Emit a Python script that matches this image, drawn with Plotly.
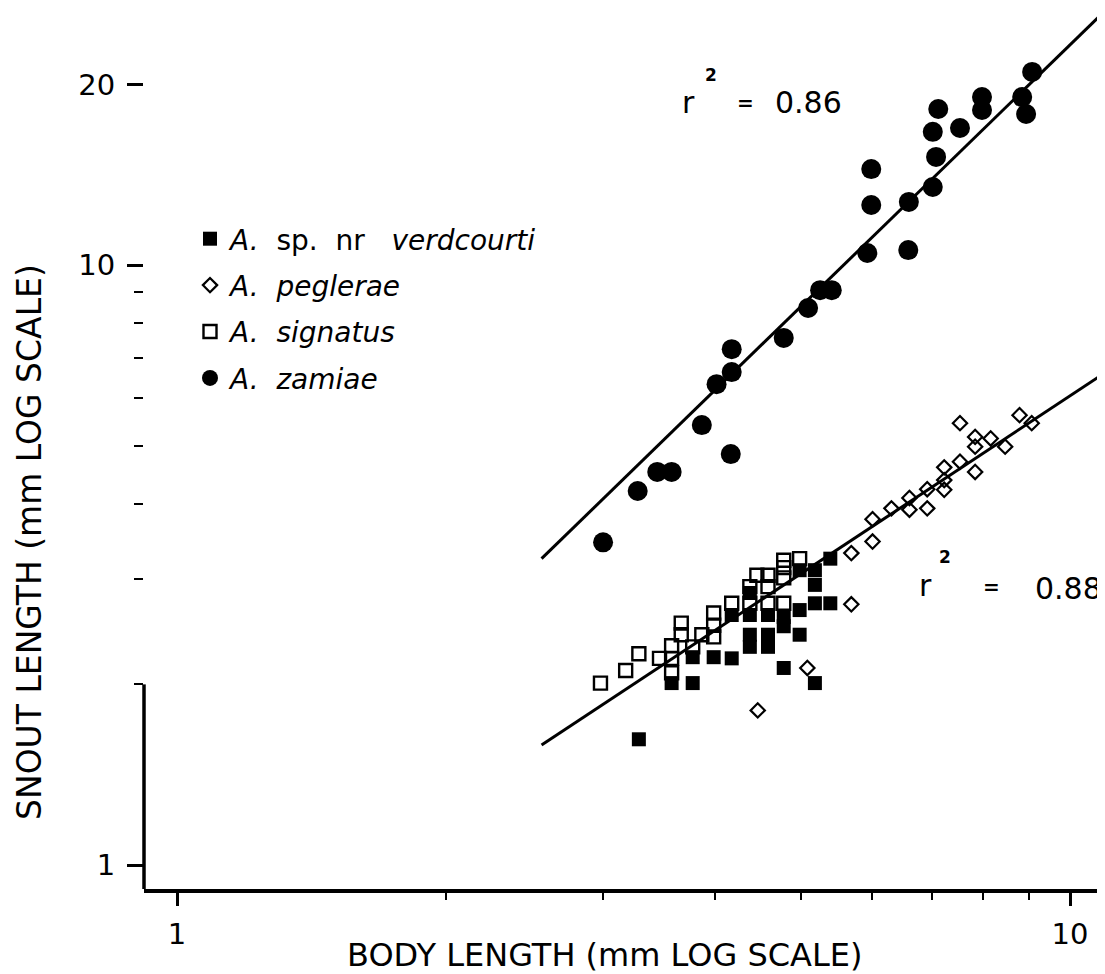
import plotly.graph_objects as go

# ---------------- data ----------------
zamiae_x = [3.00, 3.28, 3.45, 3.58, 3.87, 4.17, 4.02, 4.18, 4.18, 4.78, 5.09, 5.25, 5.41,
            5.93, 5.99, 5.99, 6.59, 6.60, 7.02, 7.08, 7.02, 7.12, 7.53, 7.97, 7.97, 8.84, 8.93, 9.07]
zamiae_y = [3.45, 4.20, 4.52, 4.52, 5.41, 4.84, 6.33, 6.63, 7.24, 7.56, 8.48, 9.08, 9.08,
            10.47, 12.59, 14.45, 10.59, 12.74, 13.49, 15.14, 16.67, 18.20, 16.92, 19.05, 18.13, 19.05, 17.85, 20.98]

signatus_x = [2.98, 3.18, 3.29, 3.47, 3.58, 3.58, 3.67, 3.67, 3.78, 3.58, 3.87, 3.99, 3.99, 3.99,
              4.18, 4.38, 4.38, 4.46, 4.59, 4.59, 4.59, 4.78, 4.78, 4.78, 4.78, 4.98]
signatus_y = [2.01, 2.11, 2.25, 2.21, 2.21, 2.32, 2.53, 2.42, 2.31, 2.09, 2.42, 2.40, 2.51, 2.63,
              2.73, 2.91, 2.73, 3.04, 3.04, 2.91, 2.73, 3.22, 3.13, 3.01, 2.73, 3.24]

verdcourti_x = [3.29, 3.58, 3.78, 3.78, 3.99, 4.18, 4.18, 4.38, 4.38, 4.38, 4.38, 4.59, 4.59, 4.59,
                4.78, 4.78, 4.78, 4.98, 4.98, 5.18, 5.39, 5.18, 5.18, 4.98, 5.39, 5.18]
verdcourti_y = [1.62, 2.01, 2.01, 2.22, 2.22, 2.21, 2.61, 2.84, 2.61, 2.42, 2.31, 2.61, 2.42, 2.31,
                2.59, 2.50, 2.13, 2.42, 2.66, 2.73, 2.73, 3.10, 2.93, 3.10, 3.24, 2.01]

peglerae_x = [7.53, 8.78, 9.06, 7.83, 8.15, 7.83, 8.46, 7.53, 7.83, 7.23, 7.23, 7.23, 6.92, 6.92,
              6.61, 6.61, 6.31, 6.01, 6.01, 5.69, 5.69, 5.08, 4.47]
peglerae_y = [5.45, 5.62, 5.45, 5.17, 5.14, 4.98, 4.98, 4.70, 4.52, 4.60, 4.38, 4.22, 4.23, 3.93,
              4.09, 3.91, 3.93, 3.77, 3.46, 3.31, 2.72, 2.13, 1.81]

# regression lines (end points)
fit_upper_x = [2.56, 10.94]
fit_upper_y = [3.24, 26.5]
fit_lower_x = [2.56, 10.94]
fit_lower_y = [1.585, 6.61]

r2_upper = "0.86"
r2_lower = "0.88"

# ---------------- layout helpers ----------------
OFF = 8                      # page body margin in the browser
W, H = 1105 - OFF, 974 - OFF
L, R, T = 144 - OFF, 0, 0
B = H - (889 - OFF)
PW, PH = W - L - R, H - T - B
XR = [-0.03695, 1.03919]
YR = [-0.04, (865 - OFF) / 600.0]
FONT = "DejaVu Sans, Liberation Sans, Arial, sans-serif"


def px(x, y):
    """absolute window pixel -> paper fraction"""
    return (x - OFF - L) / PW, (H - B - (y - OFF)) / PH


fig = go.Figure()

for fx, fy in [(fit_upper_x, fit_upper_y), (fit_lower_x, fit_lower_y)]:
    fig.add_trace(go.Scatter(x=fx, y=fy, mode="lines", line=dict(color="black", width=3),
                             showlegend=False, hoverinfo="skip"))

fig.add_trace(go.Scatter(x=verdcourti_x, y=verdcourti_y, mode="markers",
                         name="<i>A.</i>\u00a0 sp.\u00a0 nr\u00a0\u00a0 <i>verdcourti</i>",
                         marker=dict(symbol="square", size=14, color="black"), legendrank=1,
                         legendgroup="a"))
fig.add_trace(go.Scatter(x=peglerae_x, y=peglerae_y, mode="markers",
                         name="<i>A.\u00a0 peglerae</i>",
                         marker=dict(symbol="diamond-open", size=11, color="black",
                                     line=dict(width=2.2, color="black")), legendrank=2,
                         legendgroup="b"))
fig.add_trace(go.Scatter(x=signatus_x, y=signatus_y, mode="markers",
                         name="<i>A.\u00a0 signatus</i>",
                         marker=dict(symbol="square-open", size=13, color="black",
                                     line=dict(width=2.4, color="black")), legendrank=3,
                         legendgroup="c"))
fig.add_trace(go.Scatter(x=zamiae_x, y=zamiae_y, mode="markers",
                         name="<i>A.\u00a0 zamiae</i>",
                         marker=dict(symbol="circle", size=20, color="black"), legendrank=4,
                         legendgroup="d"))

lx, ly = px(190, 214)

annotations = []
ax_, ay_ = px(605, 955)
annotations.append(dict(text="BODY LENGTH (mm LOG SCALE)", x=ax_, y=ay_, xref="paper", yref="paper",
                        showarrow=False, xanchor="center", yanchor="middle",
                        font=dict(size=32, color="black", family=FONT)))
ax_, ay_ = px(30, 542)
annotations.append(dict(text="SNOUT LENGTH (mm LOG SCALE)", x=ax_, y=ay_, xref="paper", yref="paper",
                        showarrow=False, xanchor="center", yanchor="middle", textangle=-90,
                        font=dict(size=33, color="black", family=FONT)))


def r2_label(xr, yr, x2, y2, xe, ye, xv, yv, val):
    out = []
    for t, (x, y), s in [("r", (xr, yr), 30), ("<b>2</b>", (x2, y2), 17), ("<b>=</b>", (xe, ye), 20),
                         (val, (xv, yv), 30)]:
        a, b = px(x, y)
        out.append(dict(text=t, x=a, y=b, xref="paper", yref="paper", showarrow=False,
                        xanchor="center", yanchor="middle",
                        font=dict(size=s, color="black", family=FONT)))
    return out


annotations += r2_label(688, 102, 711, 75, 745, 103, 808, 103, r2_upper)
annotations += r2_label(925, 585, 945, 557, 991, 587, 1068, 588, r2_lower)

y20 = (0.30103 - YR[0]) / (YR[1] - YR[0])

fig.update_layout(
    width=W, height=H,
    margin=dict(l=L, r=R, t=T, b=B, pad=0),
    paper_bgcolor="white", plot_bgcolor="white",
    font=dict(family=FONT, color="black"),
    showlegend=True,
    legend=dict(x=lx, y=ly, xanchor="left", yanchor="top", bgcolor="rgba(0,0,0,0)",
                font=dict(size=28, family=FONT, color="black"), tracegroupgap=7,
                itemsizing="trace"),
    xaxis=dict(type="log", range=XR, showgrid=False, zeroline=False,
               showline=True, linecolor="black", linewidth=4,
               ticks="outside", ticklen=13, tickwidth=2.5, tickcolor="black",
               tickvals=[1, 10], ticktext=["1", "10"], ticklabelstandoff=3,
               tickfont=dict(size=29, family=FONT, color="black"),
               minor=dict(tickmode="array", tickvals=[2, 3, 4, 5, 6, 7, 8, 9], ticks="outside",
                          ticklen=7, tickwidth=2, tickcolor="black", showgrid=False)),
    yaxis=dict(type="log", range=YR, showgrid=False, zeroline=False,
               showline=False,
               ticks="outside", ticklen=16, tickwidth=2.5, tickcolor="black",
               tickvals=[1, 10, 20], ticktext=["1", "10", "20"], ticklabelstandoff=6,
               tickfont=dict(size=29, family=FONT, color="black"),
               minor=dict(tickmode="array", tickvals=[2, 3, 4, 5, 6, 7, 8, 9], ticks="outside",
                          ticklen=9, tickwidth=2, tickcolor="black", showgrid=False)),
    annotations=annotations,
    shapes=[dict(type="line", xref="paper", yref="paper", x0=0, x1=0, y0=0, y1=y20,
                 line=dict(color="black", width=3.5))],
)

fig.write_html("out.html")
